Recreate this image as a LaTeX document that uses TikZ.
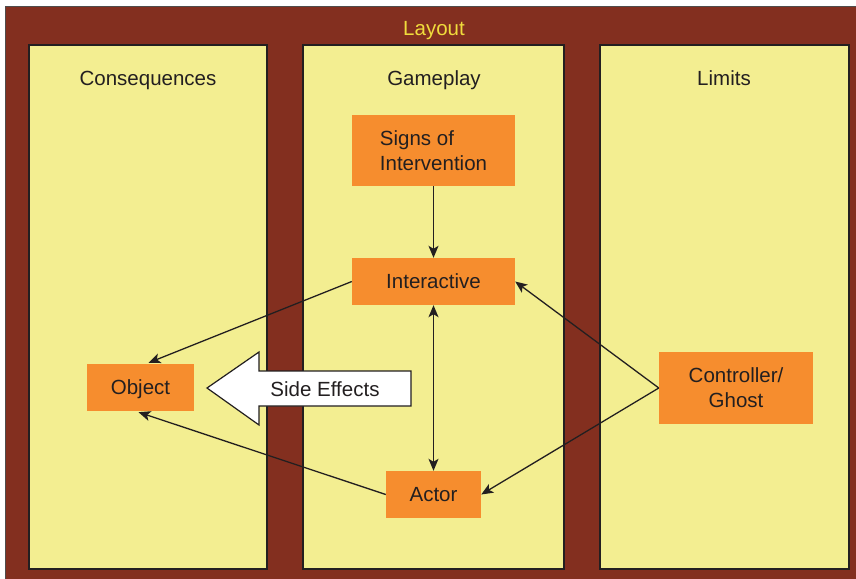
\documentclass[tikz,border=0pt]{standalone}
\usepackage{fontspec}
\setmainfont{Liberation Sans}
\usetikzlibrary{arrows.meta,calc}
\definecolor{brown}{HTML}{832F1F}
\definecolor{panel}{HTML}{F3EE91}
\definecolor{box}{HTML}{F68D2E}
\definecolor{ink}{HTML}{231F20}
\definecolor{title}{HTML}{F0DC3C}
\tikzset{
  lbl/.style={font=\fontsize{20.5}{25}\selectfont, text=ink, text depth=0pt},
  panelbox/.style={fill=panel, draw=ink, line width=1.2pt},
  orangebox/.style={fill=box, lbl, align=center, inner sep=0pt},
  tip/.style={Stealth[length=12pt,width=10pt,inset=3pt]},
  link/.style={draw=ink, line width=1.3pt, -{Stealth[length=12pt,width=10pt,inset=3pt]}},
  twoway/.style={draw=ink, line width=1.3pt, {Stealth[length=12pt,width=10pt,inset=3pt]}-{Stealth[length=12pt,width=10pt,inset=3pt]}}
}
\begin{document}
\begin{tikzpicture}[x=1pt,y=-1pt]
\useasboundingbox (0,0) rectangle (856,578);
% outer frame
\fill[brown] (5,7) rectangle (858,580);
\draw[ink!80, line width=1pt] (5,580) -- (5,7) -- (858,7);
\node[font=\fontsize{20.5}{25}\selectfont, text=title, text depth=0pt] (layout) at (434,28) {Layout};
% three columns
\draw[panelbox] (29,45) rectangle (267,569);
\draw[panelbox] (303,45) rectangle (564,569);
\draw[panelbox] (600,45) rectangle (849,569);
\node[lbl] (cons) at (148,78) {Consequences};
\node[lbl] (game) at (434,78) {Gameplay};
\node[lbl] (lim) at (724,78) {Limits};
% boxes
\node[orangebox, align=left, minimum width=163pt, minimum height=71pt] (signs) at (433.5,150.5) {Signs of\\Intervention};
\node[orangebox, minimum width=163pt, minimum height=47pt] (inter) at (433.5,281.5) {Interactive};
\node[orangebox, minimum width=107pt, minimum height=47pt] (obj) at (140.5,387.5) {Object};
\node[orangebox, minimum width=154pt, minimum height=72pt] (ctrl) at (736,388) {Controller/\\Ghost};
\node[orangebox, minimum width=95pt, minimum height=47pt] (actor) at (433.5,494.5) {Actor};
% big hollow arrow
\draw[fill=white, draw=ink, line width=1.2pt]
  (207,388) -- (259,352) -- (259,371) -- (411,371) -- (411,406) -- (259,406) -- (259,425) -- cycle;
\node[lbl] (side) at (325,389) {Side Effects};
% connectors
\draw[link] (signs) -- (inter);
\draw[twoway] (inter) -- (actor);
\draw[link] (inter.west) -- ($(obj.north)+(8,-1)$);
\draw[link] (actor.west) -- ($(obj.south)+(-2,1)$);
\draw[link] (ctrl.west) -- (inter.east);
\draw[link] (ctrl.west) -- (actor.east);
\end{tikzpicture}
\end{document}
